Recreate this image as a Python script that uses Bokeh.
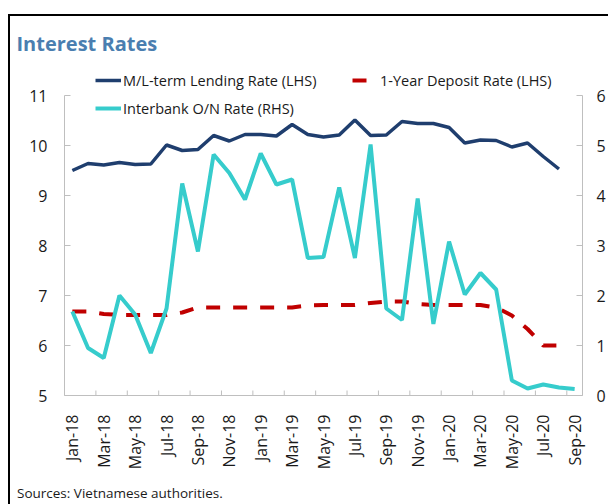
import math
from bokeh.plotting import figure
from bokeh.models import (LinearAxis, Range1d, FixedTicker, Legend, LegendItem, Div)
from bokeh.layouts import column
from bokeh.embed import file_html
from bokeh.resources import INLINE

months = ["Jan-18", "Feb-18", "Mar-18", "Apr-18", "May-18", "Jun-18", "Jul-18", "Aug-18",
          "Sep-18", "Oct-18", "Nov-18", "Dec-18", "Jan-19", "Feb-19", "Mar-19", "Apr-19",
          "May-19", "Jun-19", "Jul-19", "Aug-19", "Sep-19", "Oct-19", "Nov-19", "Dec-19",
          "Jan-20", "Feb-20", "Mar-20", "Apr-20", "May-20", "Jun-20", "Jul-20", "Aug-20", "Sep-20"]

lending = [9.50, 9.64, 9.61, 9.66, 9.62, 9.63, 10.01, 9.90, 9.92, 10.20, 10.09, 10.22,
           10.22, 10.19, 10.42, 10.22, 10.17, 10.21, 10.51, 10.20, 10.21, 10.48, 10.44, 10.44,
           10.36, 10.05, 10.11, 10.10, 9.97, 10.05, 9.78, 9.53]

deposit = [6.68, 6.68, 6.63, 6.61, 6.61, 6.61, 6.61, 6.66, 6.76, 6.76, 6.76, 6.76,
           6.76, 6.76, 6.76, 6.80, 6.81, 6.81, 6.81, 6.85, 6.88, 6.88, 6.83, 6.81,
           6.81, 6.81, 6.81, 6.76, 6.60, 6.33, 6.00, 6.00]

interbank = [1.68, 0.95, 0.75, 2.00, 1.62, 0.85, 1.74, 4.24, 2.88, 4.82, 4.45, 3.92,
             4.84, 4.22, 4.32, 2.75, 2.77, 4.16, 2.75, 5.02, 1.74, 1.51, 3.94, 1.43,
             3.08, 2.02, 2.45, 2.12, 0.30, 0.14, 0.22, 0.16, 0.13]

lhs_ticks = [5, 6, 7, 8, 9, 10, 11]
rhs_ticks = [0, 1, 2, 3, 4, 5, 6]

FONT = "Open Sans"
GREY = "#bfbfbf"
NAVY = "#1f3e6e"
CYAN = "#36cccc"
RED = "#c00000"
TXT = "#1a1a1a"

HEADROOM = 0.56  # empty space above the axes' top tick, where the legend sits

n = len(months)
label_idx = list(range(0, n, 2))
boundaries = [i - 0.5 for i in label_idx]

p = figure(width=598, height=456, x_range=Range1d(-0.5, n - 0.5),
           y_range=Range1d(lhs_ticks[0], lhs_ticks[-1] + HEADROOM),
           output_backend="svg", toolbar_location=None,
           min_border_left=54, min_border_right=24, min_border_top=51, min_border_bottom=76)
p.extra_y_ranges = {"rhs": Range1d(rhs_ticks[0], rhs_ticks[-1] + HEADROOM)}
p.outline_line_color = None
p.grid.visible = False
p.background_fill_color = "white"
p.border_fill_color = "white"

p.title.text = "Interest Rates"
p.title.text_font = FONT
p.title.text_font_style = "bold"
p.title.text_font_size = "20px"
p.title.text_color = "#4a7eb0"
p.title.align = "left"
p.title.offset = -48
p.title.standoff = 22

# x axis: labels at category centres
xa = p.xaxis[0]
xa.ticker = FixedTicker(ticks=label_idx)
xa.major_label_overrides = {i: months[i] for i in label_idx}
xa.major_label_orientation = math.pi / 2
xa.major_tick_line_color = None
xa.minor_tick_line_color = None
xa.axis_line_color = GREY
xa.major_label_standoff = 13
xa.major_label_text_font = FONT
xa.major_label_text_font_size = "16px"
xa.major_label_text_color = TXT

# tick marks between category pairs
p.segment(x0=boundaries, x1=boundaries, y0=[lhs_ticks[0]] * len(boundaries),
          y1=[lhs_ticks[0] + 0.1] * len(boundaries), line_color=GREY, line_width=1)

ya = p.yaxis[0]
ya.ticker = FixedTicker(ticks=lhs_ticks)
ya.bounds = (lhs_ticks[0], lhs_ticks[-1])
ya.major_tick_in = 6
ya.major_tick_out = 0
ya.minor_tick_line_color = None
ya.axis_line_color = GREY
ya.major_tick_line_color = GREY
ya.major_label_standoff = 17
ya.major_label_text_font = FONT
ya.major_label_text_font_size = "16px"
ya.major_label_text_color = TXT

yr = LinearAxis(y_range_name="rhs", ticker=FixedTicker(ticks=rhs_ticks),
                bounds=(rhs_ticks[0], rhs_ticks[-1]),
                major_tick_in=6, major_tick_out=0, minor_tick_line_color=None,
                axis_line_color=GREY, major_tick_line_color=GREY,
                major_label_standoff=14, major_label_text_font=FONT,
                major_label_text_font_size="16px", major_label_text_color=TXT)
p.add_layout(yr, "right")

r_lend = p.line(list(range(len(lending))), lending, line_color=NAVY, line_width=3.5)
r_dep = p.line(list(range(len(deposit))), deposit, line_color=RED, line_width=4,
               line_dash="14 13")
r_ib = p.line(list(range(len(interbank))), interbank, line_color=CYAN, line_width=4,
              y_range_name="rhs")

legend = Legend(items=[LegendItem(label="M/L-term Lending Rate (LHS)", renderers=[r_lend]),
                       LegendItem(label="1-Year Deposit Rate (LHS)", renderers=[r_dep]),
                       LegendItem(label="Interbank O/N Rate (RHS)", renderers=[r_ib])],
                location=(31, 273), orientation="horizontal", ncols=2,
                glyph_width=26, glyph_height=28, label_standoff=2, label_width=229,
                spacing=0, padding=0, margin=0,
                background_fill_alpha=0, border_line_color=None,
                label_text_font=FONT, label_text_font_size="14.5px", label_text_color=TXT)
p.add_layout(legend, "center")

src = Div(text="Sources: Vietnamese authorities.", width=300, height=20,
          margin=(12, 0, 0, 7),
          styles={"font-family": FONT, "font-size": "13.5px", "color": TXT})

layout = column(p, src, stylesheets=[":host { border-left: 2px solid #000 !important; "
                                     "border-top: 2px solid #000 !important; "
                                     "margin-top: 14px !important; "
                                     "margin-left: 8px !important; }"])

open("out.html", "w").write(file_html(layout, INLINE))
